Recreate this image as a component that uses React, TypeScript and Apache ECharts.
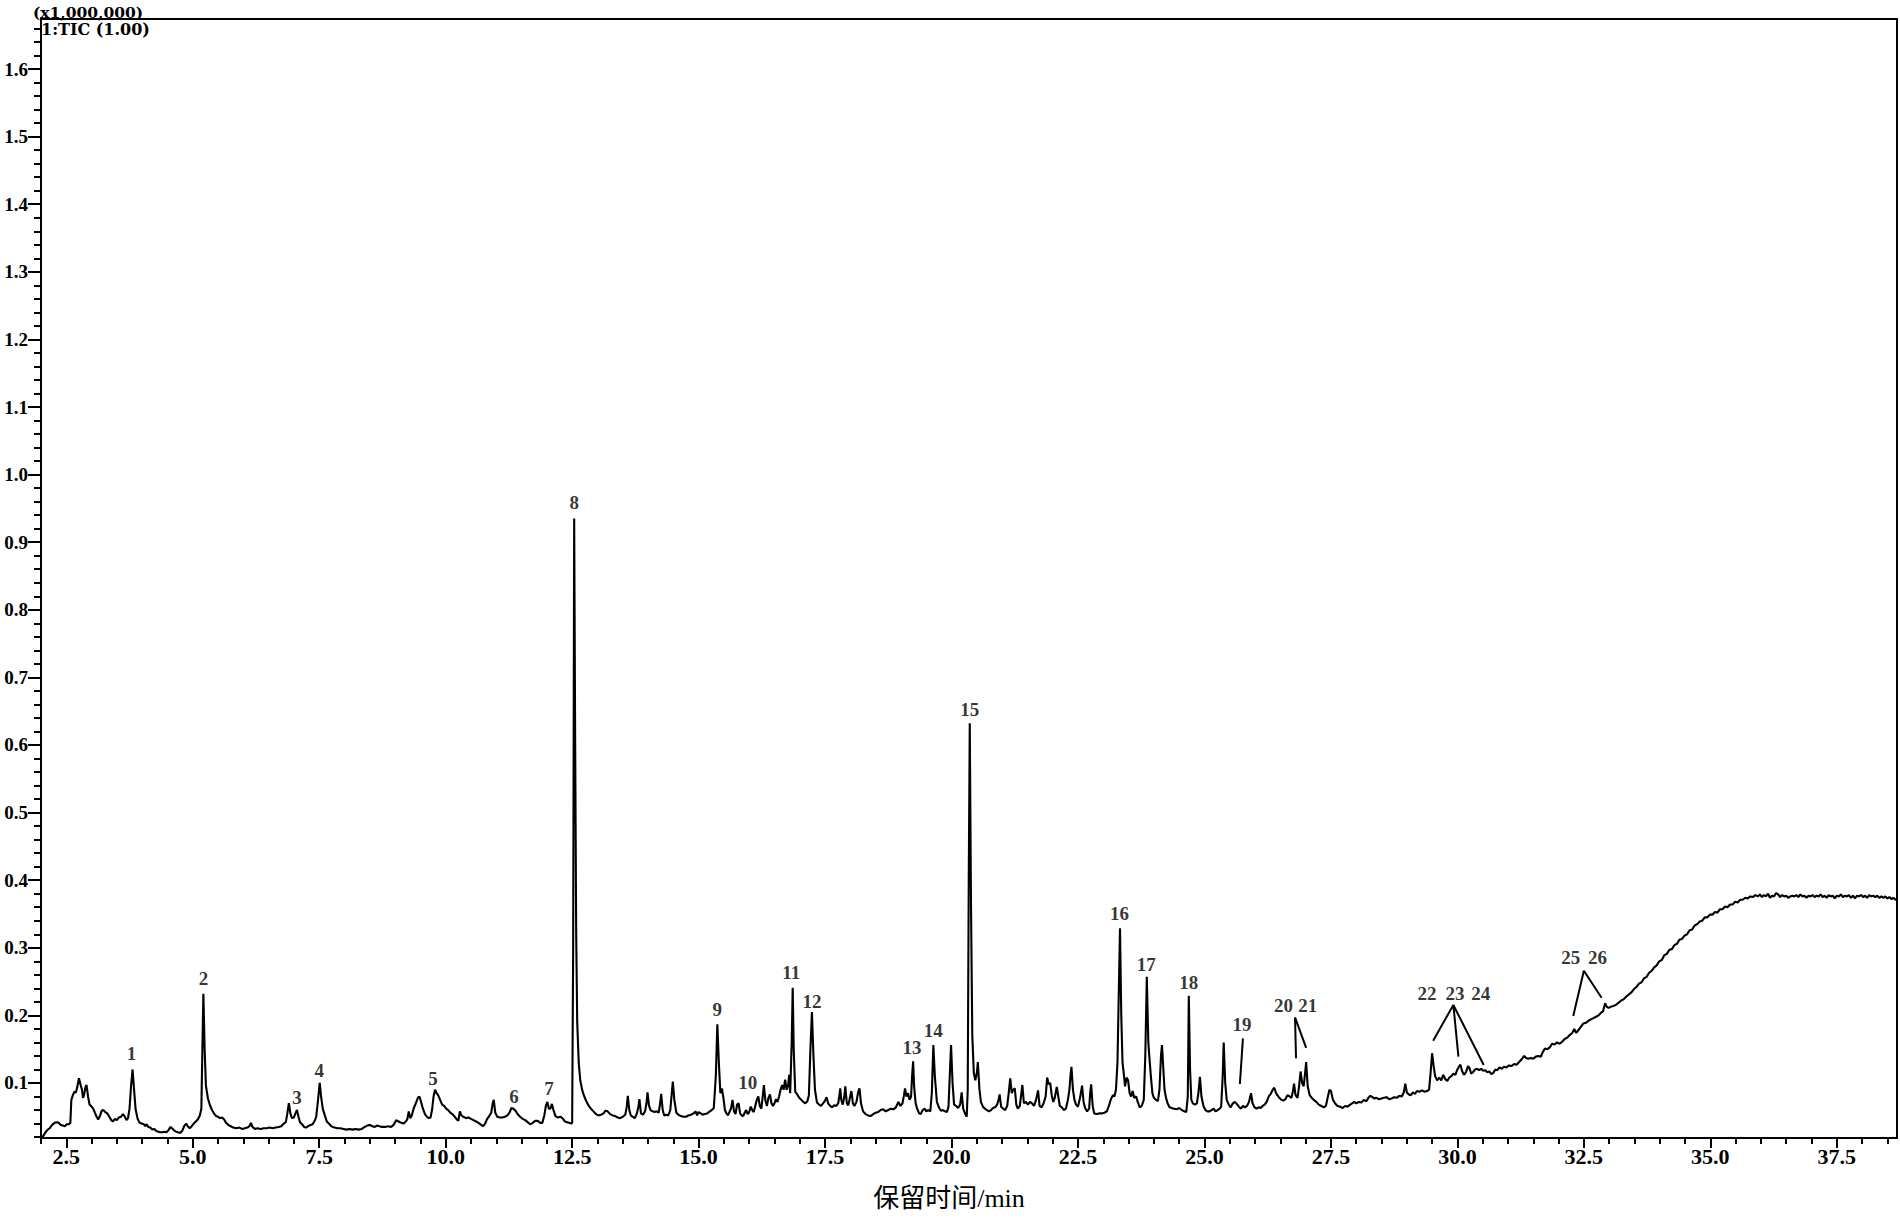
import React, { useEffect, useRef } from "react";
import * as echarts from "echarts";

// ---- TIC trace (retention time /min, intensity x1,000,000) ----
const traceA: number[][] = [
  [2.00,0.019],[2.04,0.021],[2.08,0.026],[2.12,0.030],[2.17,0.033],[2.22,0.038],[2.27,0.041],[2.31,0.042],[2.35,0.041],[2.39,0.038],
  [2.43,0.037],[2.47,0.036],[2.51,0.039],[2.55,0.039],[2.58,0.041],[2.60,0.075],[2.63,0.082],[2.66,0.087],[2.69,0.086],[2.72,0.095],
  [2.75,0.107],[2.78,0.098],[2.81,0.090],[2.83,0.078],[2.85,0.082],[2.88,0.094],[2.90,0.097],[2.93,0.080],[2.96,0.068],[2.99,0.066],
  [3.03,0.062],[3.06,0.057],[3.10,0.050],[3.13,0.046],[3.17,0.052],[3.20,0.059],[3.23,0.060],[3.27,0.057],[3.31,0.055],[3.35,0.050],
  [3.39,0.045],[3.42,0.043],[3.46,0.047],[3.50,0.045],[3.54,0.049],[3.58,0.050],[3.62,0.054],[3.65,0.051],[3.69,0.045],[3.72,0.048],
  [3.75,0.062],[3.78,0.095],[3.81,0.120],[3.84,0.090],[3.87,0.061],[3.91,0.047],[3.95,0.041],[3.99,0.040],[4.03,0.039],[4.06,0.036],
  [4.09,0.039],[4.12,0.035],[4.16,0.034],[4.20,0.031],[4.24,0.032],[4.28,0.029],[4.32,0.028],[4.36,0.027],[4.40,0.027],[4.44,0.028],
  [4.48,0.027],[4.52,0.030],[4.56,0.035],[4.59,0.033],[4.63,0.030],[4.67,0.028],[4.71,0.027],[4.75,0.026],[4.79,0.029],[4.83,0.036],
  [4.87,0.040],[4.90,0.036],[4.94,0.033],[4.98,0.036],[5.02,0.040],[5.06,0.043],[5.10,0.046],[5.14,0.052],[5.17,0.062],[5.19,0.150],
  [5.21,0.232],[5.235,0.150],[5.26,0.096],[5.30,0.077],[5.34,0.067],[5.38,0.060],[5.42,0.055],[5.46,0.051],[5.50,0.050],[5.54,0.048],
  [5.58,0.049],[5.62,0.046],[5.66,0.041],[5.70,0.038],[5.75,0.036],[5.80,0.034],[5.86,0.033],[5.92,0.034],[5.98,0.032],[6.03,0.033],
  [6.08,0.034],[6.12,0.036],[6.15,0.041],[6.18,0.035],[6.23,0.032],[6.28,0.033],[6.34,0.032],[6.40,0.033],[6.46,0.033],[6.52,0.034],
  [6.58,0.033],[6.64,0.034],[6.70,0.035],[6.75,0.036],[6.80,0.040],[6.84,0.042],[6.87,0.055],[6.90,0.070],[6.93,0.055],[6.96,0.048],
  [7.00,0.049],[7.03,0.055],[7.06,0.060],[7.09,0.050],[7.12,0.042],[7.16,0.039],[7.20,0.035],[7.24,0.034],[7.28,0.036],[7.33,0.038],
  [7.37,0.039],[7.41,0.044],[7.44,0.050],[7.47,0.070],[7.51,0.100],[7.54,0.078],[7.57,0.062],[7.61,0.052],[7.65,0.043],[7.69,0.040],
  [7.74,0.036],[7.80,0.034],[7.86,0.033],[7.92,0.033],[7.98,0.032],[8.04,0.031],[8.10,0.032],[8.16,0.031],[8.22,0.032],[8.28,0.031],
];
const traceB: number[][] = [
  [8.34,0.032],[8.40,0.035],[8.45,0.037],[8.50,0.038],[8.55,0.036],[8.60,0.035],[8.64,0.037],[8.69,0.036],[8.74,0.035],[8.80,0.035],
  [8.86,0.036],[8.92,0.035],[8.97,0.038],[9.02,0.045],[9.07,0.043],[9.12,0.041],[9.17,0.040],[9.21,0.043],[9.24,0.046],[9.27,0.058],
  [9.30,0.048],[9.33,0.052],[9.37,0.063],[9.41,0.070],[9.45,0.078],[9.48,0.080],[9.51,0.073],[9.55,0.062],[9.59,0.054],[9.63,0.050],
  [9.67,0.048],[9.70,0.049],[9.73,0.060],[9.76,0.080],[9.79,0.090],[9.82,0.085],[9.85,0.082],[9.89,0.075],[9.93,0.068],[9.97,0.066],
  [10.01,0.062],[10.05,0.060],[10.09,0.056],[10.13,0.054],[10.18,0.050],[10.22,0.046],[10.25,0.044],[10.28,0.058],[10.31,0.052],[10.35,0.050],
  [10.40,0.048],[10.45,0.049],[10.50,0.047],[10.55,0.045],[10.60,0.043],[10.65,0.041],[10.70,0.038],[10.74,0.036],[10.78,0.040],[10.82,0.047],
  [10.86,0.051],[10.90,0.056],[10.93,0.070],[10.95,0.075],[10.98,0.056],[11.02,0.050],[11.07,0.049],[11.12,0.049],[11.17,0.050],[11.22,0.052],
  [11.26,0.056],[11.30,0.063],[11.34,0.062],[11.38,0.059],[11.42,0.054],[11.47,0.050],[11.52,0.047],[11.57,0.045],[11.62,0.042],[11.67,0.039],
  [11.72,0.041],[11.77,0.044],[11.82,0.044],[11.87,0.041],[11.91,0.041],[11.95,0.052],[11.98,0.066],[12.01,0.072],[12.04,0.062],[12.07,0.062],
  [12.10,0.069],[12.13,0.060],[12.17,0.051],[12.22,0.049],[12.27,0.050],[12.32,0.047],[12.36,0.043],[12.40,0.042],[12.44,0.041],[12.48,0.040],
  [12.50,0.041],[12.52,0.300],[12.54,0.935],[12.56,0.600],[12.58,0.320],[12.60,0.190],[12.63,0.130],[12.66,0.104],[12.70,0.089],[12.74,0.080],
  [12.78,0.073],[12.83,0.066],[12.88,0.061],[12.92,0.058],[12.97,0.054],[13.02,0.052],[13.07,0.053],[13.12,0.055],[13.16,0.059],[13.20,0.058],
  [13.25,0.054],[13.30,0.052],[13.35,0.051],[13.40,0.049],[13.45,0.048],[13.50,0.050],[13.55,0.053],[13.58,0.065],[13.60,0.081],[13.63,0.060],
  [13.66,0.052],[13.70,0.050],[13.74,0.048],[13.78,0.055],[13.81,0.065],[13.83,0.076],[13.86,0.055],[13.90,0.053],[13.94,0.058],[13.97,0.070],
  [13.99,0.086],[14.02,0.066],[14.05,0.060],[14.09,0.058],[14.13,0.057],[14.17,0.058],[14.21,0.056],[14.24,0.070],[14.26,0.084],[14.29,0.060],
  [14.32,0.052],[14.36,0.053],[14.40,0.052],[14.44,0.060],[14.47,0.085],[14.49,0.102],[14.52,0.075],[14.56,0.056],[14.60,0.053],[14.65,0.051],
];
const traceC: number[][] = [
  [14.70,0.050],[14.75,0.050],[14.80,0.052],[14.85,0.053],[14.90,0.055],[14.94,0.058],[14.97,0.052],[15.00,0.057],[15.04,0.055],[15.08,0.053],
  [15.12,0.054],[15.17,0.055],[15.22,0.058],[15.26,0.060],[15.30,0.063],[15.34,0.110],[15.37,0.187],[15.40,0.130],[15.43,0.085],[15.46,0.092],
  [15.49,0.078],[15.52,0.060],[15.55,0.055],[15.58,0.052],[15.61,0.057],[15.64,0.062],[15.67,0.075],[15.70,0.058],[15.73,0.054],[15.76,0.068],
  [15.79,0.070],[15.82,0.055],[15.85,0.052],[15.88,0.051],[15.91,0.056],[15.94,0.060],[15.97,0.054],[16.00,0.057],[16.03,0.065],[16.06,0.060],
  [16.09,0.057],[16.12,0.066],[16.15,0.075],[16.18,0.080],[16.21,0.066],[16.24,0.062],[16.27,0.082],[16.29,0.097],[16.32,0.074],[16.35,0.066],
  [16.38,0.078],[16.41,0.083],[16.44,0.070],[16.47,0.066],[16.50,0.070],[16.53,0.076],[16.56,0.072],[16.59,0.080],[16.62,0.090],[16.65,0.097],
  [16.68,0.090],[16.71,0.105],[16.74,0.090],[16.77,0.097],[16.79,0.112],[16.81,0.085],[16.84,0.160],[16.86,0.241],[16.88,0.150],[16.91,0.087],
  [16.95,0.083],[16.99,0.078],[17.03,0.075],[17.07,0.072],[17.11,0.070],[17.15,0.073],[17.18,0.082],[17.21,0.150],[17.24,0.205],[17.27,0.140],
  [17.30,0.090],[17.34,0.071],[17.38,0.068],[17.42,0.066],[17.46,0.070],[17.50,0.074],[17.53,0.079],[17.56,0.070],[17.60,0.066],[17.64,0.064],
  [17.68,0.067],[17.72,0.066],[17.76,0.070],[17.78,0.080],[17.80,0.092],[17.82,0.075],[17.85,0.068],[17.88,0.080],[17.90,0.095],[17.93,0.070],
  [17.96,0.067],[17.99,0.078],[18.02,0.088],[18.05,0.070],[18.08,0.066],[18.12,0.072],[18.15,0.085],[18.18,0.092],[18.21,0.070],[18.25,0.058],
  [18.30,0.054],[18.35,0.052],[18.40,0.051],[18.45,0.054],[18.50,0.056],[18.55,0.057],[18.60,0.060],[18.65,0.061],[18.70,0.058],[18.75,0.060],
  [18.80,0.062],[18.85,0.061],[18.90,0.064],[18.95,0.072],[18.99,0.066],[19.03,0.070],[19.06,0.082],[19.08,0.092],[19.11,0.080],[19.14,0.085],
  [19.17,0.075],[19.20,0.080],[19.22,0.110],[19.24,0.132],[19.26,0.095],[19.29,0.070],[19.32,0.062],[19.36,0.055],[19.39,0.054],[19.43,0.060],
  [19.47,0.062],[19.50,0.058],[19.54,0.060],[19.58,0.058],[19.61,0.085],[19.64,0.156],[19.67,0.110],[19.71,0.072],[19.75,0.064],[19.79,0.059],
  [19.83,0.060],[19.87,0.058],[19.91,0.057],[19.94,0.065],[19.97,0.120],[19.99,0.156],[20.02,0.100],[20.05,0.068],[20.09,0.066],[20.13,0.063],
];
const traceD: number[][] = [
  [20.17,0.068],[20.20,0.086],[20.23,0.062],[20.27,0.054],[20.30,0.050],[20.32,0.090],[20.34,0.400],[20.36,0.632],[20.385,0.360],[20.41,0.170],
  [20.44,0.115],[20.47,0.104],[20.50,0.115],[20.52,0.131],[20.55,0.092],[20.58,0.072],[20.62,0.065],[20.66,0.062],[20.70,0.060],[20.74,0.058],
  [20.78,0.060],[20.82,0.063],[20.86,0.064],[20.90,0.068],[20.93,0.075],[20.95,0.083],[20.98,0.065],[21.02,0.062],[21.06,0.060],[21.10,0.066],
  [21.13,0.085],[21.16,0.107],[21.19,0.085],[21.22,0.090],[21.25,0.092],[21.28,0.068],[21.31,0.062],[21.35,0.066],[21.38,0.085],[21.40,0.097],
  [21.43,0.070],[21.47,0.072],[21.51,0.068],[21.55,0.072],[21.59,0.070],[21.63,0.066],[21.67,0.075],[21.71,0.089],[21.74,0.066],[21.78,0.064],
  [21.82,0.070],[21.86,0.080],[21.89,0.108],[21.92,0.098],[21.95,0.100],[21.98,0.082],[22.01,0.072],[22.04,0.078],[22.08,0.094],[22.11,0.080],
  [22.14,0.066],[22.18,0.064],[22.22,0.060],[22.26,0.062],[22.30,0.075],[22.33,0.090],[22.35,0.110],[22.37,0.124],[22.40,0.090],[22.43,0.075],
  [22.46,0.068],[22.50,0.065],[22.54,0.078],[22.58,0.096],[22.61,0.072],[22.64,0.063],[22.68,0.058],[22.72,0.062],[22.74,0.085],[22.76,0.098],
  [22.79,0.066],[22.82,0.055],[22.87,0.054],[22.92,0.055],[22.97,0.055],[23.02,0.056],[23.07,0.058],[23.11,0.066],[23.15,0.076],[23.19,0.082],
  [23.22,0.080],[23.25,0.090],[23.28,0.130],[23.31,0.250],[23.33,0.329],[23.355,0.200],[23.38,0.130],[23.40,0.117],[23.43,0.095],[23.46,0.108],
  [23.49,0.104],[23.52,0.085],[23.55,0.080],[23.58,0.088],[23.61,0.078],[23.65,0.080],[23.68,0.072],[23.72,0.064],[23.76,0.066],[23.80,0.075],
  [23.83,0.140],[23.86,0.257],[23.89,0.160],[23.91,0.139],[23.94,0.110],[23.97,0.085],[24.00,0.078],[24.04,0.075],[24.08,0.073],[24.11,0.090],
  [24.14,0.140],[24.16,0.156],[24.18,0.130],[24.21,0.090],[24.24,0.078],[24.27,0.070],[24.31,0.064],[24.35,0.063],[24.40,0.062],[24.45,0.061],
  [24.50,0.063],[24.55,0.060],[24.60,0.058],[24.64,0.057],[24.67,0.080],[24.69,0.229],[24.715,0.120],[24.74,0.075],[24.77,0.070],[24.81,0.068],
  [24.85,0.070],[24.88,0.085],[24.91,0.109],[24.94,0.080],[24.98,0.066],[25.02,0.060],[25.06,0.058],[25.10,0.058],[25.14,0.060],[25.18,0.062],
  [25.22,0.058],[25.26,0.060],[25.30,0.062],[25.33,0.065],[25.36,0.110],[25.38,0.160],[25.41,0.100],[25.44,0.075],[25.48,0.068],[25.52,0.064],
];
const traceE: number[][] = [
  [25.56,0.070],[25.60,0.072],[25.64,0.069],[25.68,0.065],[25.72,0.062],[25.76,0.066],[25.80,0.064],[25.84,0.066],[25.88,0.072],[25.92,0.085],
  [25.95,0.070],[25.99,0.064],[26.03,0.062],[26.07,0.064],[26.11,0.063],[26.15,0.066],[26.19,0.068],[26.23,0.072],[26.27,0.080],[26.31,0.084],
  [26.35,0.090],[26.38,0.093],[26.41,0.086],[26.44,0.082],[26.48,0.078],[26.52,0.075],[26.56,0.074],[26.60,0.076],[26.64,0.082],[26.68,0.080],
  [26.72,0.078],[26.75,0.088],[26.77,0.099],[26.80,0.082],[26.84,0.078],[26.87,0.095],[26.90,0.117],[26.93,0.100],[26.96,0.095],[26.99,0.115],
  [27.01,0.131],[27.04,0.095],[27.08,0.082],[27.12,0.078],[27.16,0.075],[27.21,0.072],[27.26,0.068],[27.31,0.066],[27.36,0.064],[27.40,0.066],
  [27.44,0.080],[27.47,0.090],[27.50,0.088],[27.54,0.075],[27.58,0.070],[27.63,0.066],[27.68,0.065],[27.73,0.063],[27.78,0.066],[27.83,0.065],
  [27.88,0.068],[27.92,0.070],[27.96,0.072],[28.00,0.070],[28.05,0.072],[28.10,0.071],[28.15,0.075],[28.20,0.073],[28.24,0.078],[28.28,0.081],
  [28.32,0.079],[28.36,0.077],[28.40,0.078],[28.45,0.076],[28.50,0.077],[28.55,0.078],[28.60,0.079],[28.65,0.076],[28.70,0.077],[28.75,0.079],
  [28.80,0.078],[28.85,0.081],[28.90,0.080],[28.94,0.086],[28.97,0.099],[29.00,0.086],[29.04,0.083],[29.08,0.082],[29.12,0.086],[29.16,0.084],
  [29.20,0.088],[29.25,0.087],[29.30,0.089],[29.35,0.087],[29.40,0.088],[29.44,0.090],[29.47,0.115],[29.50,0.144],[29.53,0.125],[29.56,0.110],
  [29.60,0.104],[29.64,0.108],[29.68,0.104],[29.72,0.112],[29.76,0.106],[29.80,0.103],[29.84,0.108],[29.88,0.110],[29.92,0.114],[29.96,0.112],
  [30.00,0.120],[30.03,0.124],[30.06,0.127],[30.09,0.118],[30.13,0.112],[30.17,0.116],[30.21,0.125],[30.24,0.122],[30.27,0.114],[30.31,0.116],
  [30.35,0.120],[30.39,0.121],[30.43,0.119],[30.47,0.121],[30.51,0.118],[30.55,0.119],[30.59,0.116],[30.63,0.117],[30.67,0.113],[30.71,0.115],
  [30.75,0.120],[30.79,0.119],[30.83,0.123],[30.88,0.121],[30.92,0.124],[30.97,0.123],[31.02,0.126],[31.07,0.125],[31.12,0.128],[31.17,0.127],
  [31.22,0.131],[31.27,0.135],[31.32,0.140],[31.36,0.137],[31.40,0.136],[31.45,0.137],[31.50,0.136],[31.55,0.139],[31.60,0.140],[31.65,0.139],
  [31.69,0.146],[31.73,0.151],[31.78,0.150],[31.83,0.153],[31.87,0.158],[31.92,0.157],[31.97,0.160],[32.02,0.158],[32.07,0.161],[32.12,0.165],
];
const traceF: number[][] = [
  [32.17,0.167],[32.22,0.171],[32.27,0.174],[32.31,0.180],[32.35,0.174],[32.39,0.178],[32.44,0.183],[32.49,0.188],[32.54,0.189],[32.59,0.192],
  [32.64,0.194],[32.69,0.196],[32.74,0.198],[32.79,0.200],[32.84,0.204],[32.88,0.206],[32.92,0.218],[32.95,0.213],[32.99,0.211],[33.04,0.213],
  [33.09,0.214],[33.14,0.216],[33.19,0.219],[33.24,0.222],[33.29,0.224],[33.34,0.228],[33.39,0.231],[33.44,0.234],[33.49,0.239],[33.54,0.242],
  [33.59,0.247],[33.64,0.249],[33.69,0.255],[33.74,0.257],[33.79,0.263],[33.84,0.266],[33.89,0.271],[33.94,0.274],[33.99,0.280],[34.04,0.282],
  [34.09,0.289],[34.14,0.291],[34.19,0.297],[34.24,0.298],[34.29,0.304],[34.34,0.306],[34.39,0.312],[34.44,0.313],[34.49,0.318],[34.54,0.320],
  [34.59,0.326],[34.64,0.327],[34.69,0.333],[34.74,0.335],[34.79,0.339],[34.84,0.340],[34.89,0.345],[34.94,0.345],[34.99,0.349],[35.04,0.349],
  [35.09,0.353],[35.14,0.352],[35.19,0.357],[35.24,0.357],[35.29,0.361],[35.34,0.360],[35.39,0.364],[35.44,0.364],[35.49,0.368],[35.54,0.367],
  [35.59,0.371],[35.64,0.371],[35.69,0.374],[35.74,0.373],[35.79,0.376],[35.84,0.375],[35.89,0.378],[35.94,0.376],[35.98,0.379],[36.02,0.375],
  [36.06,0.378],[36.10,0.376],[36.14,0.380],[36.18,0.374],[36.22,0.377],[36.26,0.376],[36.30,0.381],[36.34,0.379],[36.38,0.375],[36.42,0.378],
  [36.46,0.376],[36.50,0.377],[36.54,0.374],[36.58,0.376],[36.62,0.377],[36.66,0.376],[36.70,0.378],[36.74,0.375],[36.78,0.379],[36.82,0.376],
  [36.86,0.377],[36.90,0.374],[36.94,0.377],[36.98,0.376],[37.02,0.378],[37.06,0.375],[37.10,0.377],[37.14,0.376],[37.18,0.379],[37.22,0.375],
  [37.26,0.377],[37.30,0.374],[37.34,0.378],[37.38,0.376],[37.42,0.377],[37.46,0.373],[37.50,0.377],[37.54,0.376],[37.58,0.379],[37.62,0.375],
  [37.66,0.377],[37.70,0.376],[37.74,0.378],[37.78,0.374],[37.82,0.377],[37.86,0.373],[37.90,0.377],[37.94,0.376],[37.98,0.378],[38.02,0.375],
  [38.06,0.377],[38.10,0.374],[38.14,0.378],[38.18,0.376],[38.22,0.377],[38.26,0.375],[38.30,0.377],[38.34,0.374],[38.38,0.376],[38.42,0.374],
  [38.46,0.376],[38.50,0.373],[38.54,0.375],[38.58,0.372],[38.62,0.374],[38.66,0.371],[38.70,0.373],
];

// ---- peak number labels: [retention time, intensity, label] ----
const peakLabels: (number | string)[][] = [
  [3.79,0.144,"1"],[5.21,0.254,"2"],[7.06,0.078,"3"],[7.50,0.118,"4"],[9.75,0.107,"5"],[11.35,0.080,"6"],[12.04,0.092,"7"],
  [12.54,0.958,"8"],[15.37,0.209,"9"],[15.97,0.100,"10"],[16.83,0.264,"11"],[17.24,0.221,"12"],[19.22,0.152,"13"],[19.64,0.178,"14"],
  [20.36,0.652,"15"],[23.32,0.351,"16"],[23.85,0.275,"17"],[24.69,0.248,"18"],[25.74,0.186,"19"],[26.56,0.215,"20"],[27.04,0.215,"21"],
  [29.40,0.233,"22"],[29.95,0.233,"23"],[30.46,0.233,"24"],[32.24,0.285,"25"],[32.77,0.285,"26"],
];

// ---- leader lines pointing to small peaks ----
const leader19: number[][] = [[25.76,0.166],[25.70,0.0985]];
const leader20_21: number[][] = [[26.81,0.1365],[26.79,0.197],[27.01,0.152]];
const leader22_24: number[][] = [[29.52,0.1626],[29.92,0.2154],[30.02,0.139],[29.92,0.2154],[30.52,0.1266]];
const leader25_26: number[][] = [[32.29,0.199],[32.50,0.266],[32.85,0.226]];

// ---- axes ----
const xTickLabels: number[] = [2.5, 5.0, 7.5, 10.0, 12.5, 15.0, 17.5, 20.0, 22.5, 25.0, 27.5, 30.0, 32.5, 35.0, 37.5];
const yTickLabels: number[] = [0.1, 0.2, 0.3, 0.4, 0.5, 0.6, 0.7, 0.8, 0.9, 1.0, 1.1, 1.2, 1.3, 1.4, 1.5, 1.6];
const xMin = 2.0, xMax = 38.69;
const yMin = 0.0186, yMax = 1.674;

const xMinorTicks: number[] = [];
for (let i = 4; i * 0.5 <= xMax; i++) xMinorTicks.push(+(i * 0.5).toFixed(2));
const yMinorTicks: number[] = [];
for (let i = 1; i * 0.02 <= yMax; i++) yMinorTicks.push(+(i * 0.02).toFixed(3));

const tickFont = "'Liberation Serif', 'Times New Roman', serif";
const headFont = "'DejaVu Serif', serif";

export default function App() {
  const ref = useRef<HTMLDivElement>(null);
  useEffect(() => {
    if (!ref.current) return;
    const chart = echarts.init(ref.current, undefined, { renderer: "svg" });
    const trace = [...traceA, ...traceB, ...traceC, ...traceD, ...traceE, ...traceF];
    const leaderSeries = [leader19, leader20_21, leader22_24, leader25_26].map((d) => ({
      type: "line",
      data: d,
      showSymbol: false,
      symbol: "none",
      silent: true,
      z: 4,
      lineStyle: { color: "#000", width: 2 },
    }));
    const axisLineStyle = { color: "#000", width: 2 };
    chart.setOption({
      animation: false,
      backgroundColor: "#fff",
      grid: { left: 41, right: 3, top: 19, bottom: 80, show: true, borderColor: "#000", borderWidth: 2, backgroundColor: "transparent" },
      xAxis: [
        {
          type: "value", min: xMin, max: xMax, position: "bottom",
          axisLine: { show: true, onZero: false, lineStyle: axisLineStyle },
          axisTick: { show: true, length: 10, customValues: xTickLabels, lineStyle: axisLineStyle },
          axisLabel: {
            customValues: xTickLabels, formatter: (v: number) => v.toFixed(1), margin: 7,
            fontFamily: tickFont, fontWeight: "bold", fontSize: 22, color: "#000",
          },
          splitLine: { show: false },
        },
        {
          type: "value", min: xMin, max: xMax, position: "bottom",
          axisLine: { show: false, onZero: false },
          axisTick: { show: true, length: 6, customValues: xMinorTicks, lineStyle: axisLineStyle },
          axisLabel: { show: false },
          splitLine: { show: false },
        },
      ],
      yAxis: [
        {
          type: "value", min: yMin, max: yMax, position: "left",
          axisLine: { show: true, onZero: false, lineStyle: axisLineStyle },
          axisTick: { show: true, length: 13, customValues: yTickLabels, lineStyle: axisLineStyle },
          axisLabel: {
            customValues: yTickLabels, formatter: (v: number) => v.toFixed(1), margin: 13,
            fontFamily: tickFont, fontWeight: "bold", fontSize: 19, color: "#000",
          },
          splitLine: { show: false },
        },
        {
          type: "value", min: yMin, max: yMax, position: "left",
          axisLine: { show: false, onZero: false },
          axisTick: { show: true, length: 7, customValues: yMinorTicks, lineStyle: axisLineStyle },
          axisLabel: { show: false },
          splitLine: { show: false },
        },
      ],
      graphic: [
        { type: "text", left: 33, top: 4, style: { text: "(x1,000,000)", font: `bold 15.5px ${headFont}`, fill: "#000" } },
        { type: "text", left: 41, top: 21, style: { text: "1:TIC (1.00)", font: `bold 16px ${headFont}`, fill: "#000" } },
        {
          type: "text", x: 949, y: 1198,
          style: {
            text: "保留时间/min", fill: "#000", align: "center", verticalAlign: "middle",
            font: "26px 'Liberation Serif', 'Noto Sans CJK SC', serif",
          },
        },
      ],
      series: [
        {
          type: "line",
          data: trace,
          showSymbol: false,
          symbol: "none",
          silent: true,
          z: 3,
          lineStyle: { color: "#000", width: 2.1 },
        },
        ...leaderSeries,
        {
          type: "scatter",
          data: peakLabels,
          symbolSize: 0,
          silent: true,
          z: 5,
          label: {
            show: true, position: "inside",
            formatter: (p: any) => String(p.value[2]),
            fontFamily: tickFont, fontWeight: "bold", fontSize: 19, color: "#000",
          },
        },
      ],
    });
    return () => chart.dispose();
  }, []);
  return <div ref={ref} style={{ position: "fixed", left: 0, top: 0, width: 1900, height: 1218, background: "#fff" }} />;
}
